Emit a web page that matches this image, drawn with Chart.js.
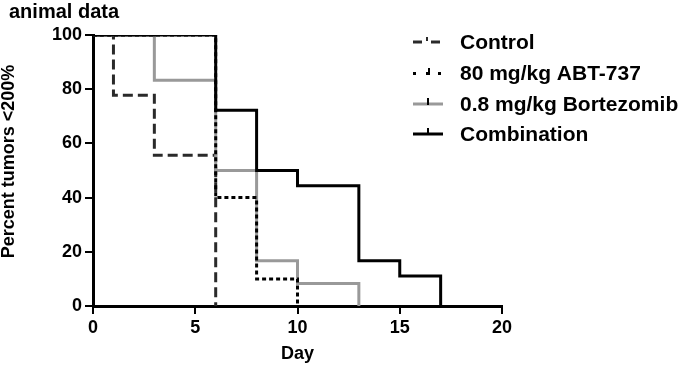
<!DOCTYPE html>
<html>
<head>
<meta charset="utf-8">
<script src="https://cdn.jsdelivr.net/npm/chart.js@4"></script>
<style>
  body { margin: 0; background: #fff; }
  #wrap { width: 692px; height: 366px; }
</style>
</head>
<body>
<div id="wrap"><canvas id="myChart" width="692" height="366"></canvas></div>
<script>
// survival curves (day, percent)
const controlDays = [0, 1, 3, 6];
const controlPct = [100, 77.8, 55.6, 0];
const abtDays = [0, 6, 8, 10];
const abtPct = [100, 40, 10, 0];
const bortDays = [0, 3, 6, 8, 10, 13];
const bortPct = [100, 83.3, 50, 16.7, 8.3, 0];
const comboDays = [0, 6, 8, 10, 13, 15, 17];
const comboPct = [100, 72.2, 50, 44.4, 16.7, 11.1, 0];

const seriesNames = ['Control', '80 mg/kg ABT-737', '0.8 mg/kg Bortezomib', 'Combination'];
const xTicks = [0, 5, 10, 15, 20];
const yTicks = [0, 20, 40, 60, 80, 100];

const FONT = '"Liberation Sans", Arial, sans-serif';

function pts(xs, ys) {
    return xs.map((x, i) => ({x: x, y: ys[i]}));
}

function ds(label, xs, ys, color, dash, order) {
    return {
        label: label,
        data: pts(xs, ys),
        showLine: true,
        stepped: true,
        borderColor: color,
        borderWidth: 3,
        borderDash: dash,
        pointRadius: 0,
        fill: false,
        order: order
    };
}

const datasets = [
    ds(seriesNames[0], controlDays, controlPct, '#2a2a2a', [10, 5], 3),
    ds(seriesNames[1], abtDays, abtPct, '#000000', [4, 3], 0),
    ds(seriesNames[2], bortDays, bortPct, '#999999', [], 2),
    ds(seriesNames[3], comboDays, comboPct, '#000000', [], 1)
];

function seg(ctx, x1, y1, x2, y2) {
    ctx.beginPath();
    ctx.moveTo(x1, y1);
    ctx.lineTo(x2, y2);
    ctx.stroke();
}

// title + legend drawn on the canvas
const extras = {
    id: 'extras',
    afterDraw(chart) {
        const ctx = chart.ctx;
        ctx.save();
        ctx.fillStyle = '#000';
        ctx.font = 'bold 20px ' + FONT;
        ctx.textBaseline = 'alphabetic';
        ctx.textAlign = 'left';
        ctx.fillText('animal data', 9, 18);

        const rowY = [42, 73, 104, 134];
        ctx.lineWidth = 3;
        // Control: dash, little tick, dash
        let y = rowY[0];
        ctx.strokeStyle = datasets[0].borderColor;
        seg(ctx, 413, y, 422, y);
        seg(ctx, 431, y, 440, y);
        ctx.lineWidth = 2;
        seg(ctx, 427, y - 5, 427, y - 1);
        // ABT-737: dots
        y = rowY[1];
        ctx.fillStyle = '#000';
        ctx.fillRect(413, y - 1, 3, 3);
        ctx.fillRect(426, y - 1, 4, 3);
        ctx.fillRect(428, y - 5, 2, 4);
        ctx.fillRect(438, y - 1, 3, 3);
        // Bortezomib: grey line with black tick
        y = rowY[2];
        ctx.lineWidth = 3;
        ctx.strokeStyle = datasets[2].borderColor;
        seg(ctx, 413, y, 443, y);
        ctx.strokeStyle = '#000';
        ctx.lineWidth = 2;
        seg(ctx, 428, y - 6, 428, y + 1);
        // Combination: black line with tick
        y = rowY[3];
        ctx.lineWidth = 3;
        seg(ctx, 413, y, 443, y);
        ctx.lineWidth = 2;
        seg(ctx, 428, y - 6, 428, y);

        ctx.font = 'bold 21px ' + FONT;
        ctx.textBaseline = 'middle';
        chart.data.datasets.forEach((d, i) => {
            ctx.fillText(d.label, 460, rowY[i] + 1);
        });
        ctx.restore();
    }
};

new Chart(document.getElementById('myChart'), {
    type: 'scatter',
    data: { datasets: datasets },
    options: {
        responsive: false,
        animation: false,
        layout: { padding: { top: 35, right: 190, bottom: 0, left: 0 } },
        plugins: {
            legend: { display: false },
            tooltip: { enabled: false }
        },
        scales: {
            x: {
                type: 'linear',
                min: 0,
                max: 20,
                afterFit(scale) { scale.height = 60; },
                afterBuildTicks(scale) { scale.ticks = xTicks.map(v => ({value: v})); },
                ticks: {
                    color: '#000',
                    padding: 3,
                    font: { family: FONT, size: 18, weight: 'bold' }
                },
                grid: {
                    drawOnChartArea: false,
                    drawTicks: true,
                    tickLength: 8,
                    color: '#000',
                    lineWidth: 2
                },
                border: { display: true, color: '#000', width: 3 },
                title: {
                    display: true,
                    text: 'Day',
                    color: '#000',
                    padding: { top: 0, bottom: 1 },
                    font: { family: FONT, size: 18, weight: 'bold' }
                }
            },
            y: {
                type: 'linear',
                min: 0,
                max: 100,
                afterFit(scale) { scale.width = 93; },
                afterBuildTicks(scale) { scale.ticks = yTicks.map(v => ({value: v})); },
                ticks: {
                    color: '#000',
                    padding: 3,
                    font: { family: FONT, size: 18, weight: 'bold' }
                },
                grid: {
                    drawOnChartArea: false,
                    drawTicks: true,
                    tickLength: 8,
                    color: '#000',
                    lineWidth: 2
                },
                border: { display: true, color: '#000', width: 3 },
                title: {
                    display: true,
                    text: '\u2003Percent tumors <200%',
                    color: '#000',
                    padding: { top: 0, bottom: 0 },
                    font: { family: FONT, size: 18, weight: 'bold', lineHeight: 1.0 }
                }
            }
        }
    },
    plugins: [extras]
});
</script>
</body>
</html>
